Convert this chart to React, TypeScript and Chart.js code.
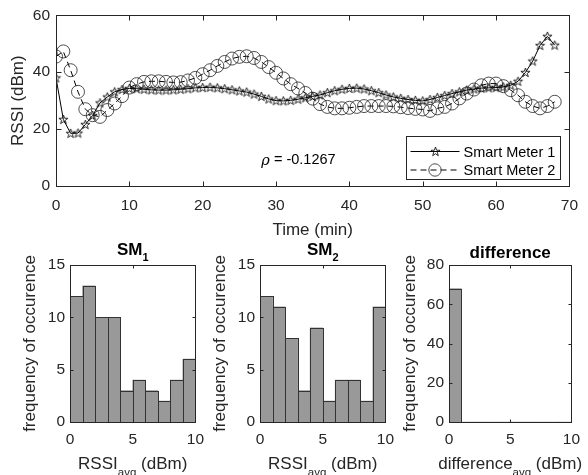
import React, { useEffect, useRef } from 'react';
import { Chart, registerables } from 'chart.js';

Chart.register(...registerables);

// ---------- data ----------
const TIME = [0, 1, 2, 3, 4, 5, 6, 7, 8, 9, 10, 11, 12, 13, 14, 15, 16, 17, 18, 19, 20, 21, 22, 23, 24, 25, 26, 27, 28, 29, 30, 31, 32, 33, 34, 35, 36, 37, 38, 39, 40, 41, 42, 43, 44, 45, 46, 47, 48, 49, 50, 51, 52, 53, 54, 55, 56, 57, 58, 59, 60, 61, 62, 63, 64, 65, 66, 67, 68];
const SM1 = [38, 23.4, 18.5, 18.6, 21.6, 24.8, 29.2, 31.3, 33.1, 33.9, 34.3, 34.2, 34, 33.8, 33.7, 33.7, 33.8, 34, 34.2, 34.5, 34.6, 34.7, 34.5, 34.2, 33.8, 33.4, 33, 32.3, 31.5, 30.6, 30, 29.9, 30.1, 30.5, 31, 31.5, 32, 32.8, 33.5, 34, 34.3, 34.4, 34.1, 33.5, 32.8, 32, 31.3, 30.8, 30.4, 30.1, 29.9, 30.4, 31.1, 31.8, 32.5, 33.1, 33.7, 34.1, 34.4, 34.5, 34.6, 34.8, 35.4, 36.8, 39.9, 43.9, 49.4, 52.6, 49.5];
const SM2 = [45.5, 47.3, 40.7, 33.1, 27, 24.9, 24.3, 26.7, 29, 31.6, 34.6, 35.8, 36.6, 36.8, 36.8, 36.6, 36.4, 36.5, 37.1, 38, 39.3, 40.7, 42.2, 43.6, 44.8, 45.4, 45.6, 45, 43.6, 41.8, 39.8, 37.8, 35.8, 34.3, 32.7, 30.7, 28.8, 27.8, 27.3, 27.3, 27.5, 27.8, 28.1, 28.1, 28.1, 28.1, 28, 27.7, 27.4, 27.1, 26.9, 26.4, 27.3, 27.8, 29, 30.8, 32.5, 33.9, 35.4, 36, 36, 35.1, 33.7, 31.9, 29.6, 28.1, 27.3, 28.1, 29.6];
const SERIES_LABELS = ['Smart Meter 1', 'Smart Meter 2'];
const RHO_TEXT = ' = -0.1267';
const RHO_POS = [28, 9];

const BIN_CENTERS = [0.5, 1.5, 2.5, 3.5, 4.5, 5.5, 6.5, 7.5, 8.5, 9.5];
const SM1_HIST = [12, 13, 10, 10, 3, 4, 3, 2, 4, 6];
const SM2_HIST = [12, 11, 8, 3, 9, 2, 4, 4, 2, 11];
const DIFF_HIST = [68, 0, 0, 0, 0, 0, 0, 0, 0, 0];

// ---------- styles ----------
const FONT = '"Liberation Sans", Arial, Helvetica, sans-serif';
const AX = '#262626';
const TICK_SIZE = 15.5;
const LABEL_SIZE = 17;

type Piece = { text: string; sub?: boolean; italic?: boolean };

function drawPieces(ctx: CanvasRenderingContext2D, pieces: Piece[], cx: number, baseline: number, size: number, subSize: number, bold: boolean, subDy: number, color: string) {
  const fontFor = (p: Piece) => `${p.italic ? 'italic ' : ''}${bold ? 'bold ' : ''}${p.sub ? subSize : size}px ${FONT}`;
  const widths: number[] = [];
  let total = 0;
  for (const p of pieces) {
    ctx.font = fontFor(p);
    const w = ctx.measureText(p.text).width;
    widths.push(w);
    total += w;
  }
  let x = cx - total / 2;
  ctx.textAlign = 'left';
  ctx.textBaseline = 'alphabetic';
  ctx.fillStyle = color;
  pieces.forEach((p, i) => {
    ctx.font = fontFor(p);
    ctx.fillText(p.text, x, baseline + (p.sub ? subDy : 0));
    x += widths[i];
  });
}

function makeStar(): HTMLCanvasElement {
  const size = 11;
  const c = document.createElement('canvas');
  c.width = size;
  c.height = size;
  const ctx = c.getContext('2d')!;
  const cx = size / 2, cy = size / 2 + 0.3;
  const R = 4.8, r = R * 0.4;
  ctx.beginPath();
  for (let i = 0; i < 10; i++) {
    const ang = -Math.PI / 2 + (i * Math.PI) / 5;
    const rad = i % 2 === 0 ? R : r;
    const x = cx + rad * Math.cos(ang), y = cy + rad * Math.sin(ang);
    if (i === 0) ctx.moveTo(x, y); else ctx.lineTo(x, y);
  }
  ctx.closePath();
  ctx.strokeStyle = '#111';
  ctx.lineWidth = 0.9;
  ctx.stroke();
  return c;
}

type DecoCfg = {
  tickLen: number;
  title?: { pieces: Piece[]; baseline: number };
  xlabel?: { pieces: Piece[]; baseline: number };
  ylabel?: { text: string; x: number };
  barOutline?: boolean;
  legend?: { star: HTMLCanvasElement };
  rho?: boolean;
};

function decoPlugin(cfg: DecoCfg) {
  return {
    id: 'deco',
    afterDatasetsDraw(chart: any) {
      const ctx: CanvasRenderingContext2D = chart.ctx;
      const { left, right, top, bottom } = chart.chartArea;
      const xs = chart.scales.x, ys = chart.scales.y;
      ctx.save();
      if (cfg.barOutline) {
        const meta = chart.getDatasetMeta(0);
        ctx.strokeStyle = '#333';
        ctx.lineWidth = 1;
        meta.data.forEach((bar: any) => {
          const p = bar.getProps(['x', 'y', 'base', 'width'], true);
          if (Math.abs(p.base - p.y) < 0.5) return;
          const l = Math.round(p.x - p.width / 2) + 0.5;
          const r = Math.round(p.x + p.width / 2) + 0.5;
          const t = Math.round(p.y) + 0.5;
          const b = Math.round(p.base) + 0.5;
          ctx.strokeRect(l, t, r - l, b - t);
        });
      }
      const L = Math.round(left) + 0.5, R = Math.round(right) + 0.5, T = Math.round(top) + 0.5, B = Math.round(bottom) + 0.5;
      ctx.strokeStyle = AX;
      ctx.lineWidth = 1;
      ctx.setLineDash([]);
      ctx.strokeRect(L, T, R - L, B - T);
      const tl = cfg.tickLen;
      ctx.beginPath();
      xs.ticks.forEach((t: any) => {
        const px = Math.round(xs.getPixelForValue(t.value)) + 0.5;
        ctx.moveTo(px, B); ctx.lineTo(px, B - tl);
        ctx.moveTo(px, T); ctx.lineTo(px, T + tl);
      });
      ys.ticks.forEach((t: any) => {
        const py = Math.round(ys.getPixelForValue(t.value)) + 0.5;
        ctx.moveTo(L, py); ctx.lineTo(L + tl, py);
        ctx.moveTo(R, py); ctx.lineTo(R - tl, py);
      });
      ctx.stroke();

      const cx = (left + right) / 2;
      if (cfg.title) drawPieces(ctx, cfg.title.pieces, cx, cfg.title.baseline, LABEL_SIZE, 11, true, 6, '#000');
      if (cfg.xlabel) drawPieces(ctx, cfg.xlabel.pieces, cx, cfg.xlabel.baseline, LABEL_SIZE, 11.5, false, 7, AX);
      if (cfg.ylabel) {
        ctx.save();
        ctx.translate(cfg.ylabel.x, (top + bottom) / 2);
        ctx.rotate(-Math.PI / 2);
        ctx.font = `${LABEL_SIZE}px ${FONT}`;
        ctx.fillStyle = AX;
        ctx.textAlign = 'center';
        ctx.textBaseline = 'alphabetic';
        ctx.fillText(cfg.ylabel.text, 0, 0);
        ctx.restore();
      }
      if (cfg.rho) {
        const px = xs.getPixelForValue(RHO_POS[0]);
        const py = ys.getPixelForValue(RHO_POS[1]);
        ctx.textAlign = 'left';
        ctx.textBaseline = 'middle';
        ctx.fillStyle = '#000';
        ctx.font = `italic 14.5px "DejaVu Serif", serif`;
        ctx.fillText('\u03C1', px, py + 1);
        const w = ctx.measureText('\u03C1').width;
        ctx.font = `14.5px ${FONT}`;
        ctx.fillText(RHO_TEXT, px + w, py);
      }
      if (cfg.legend) {
        const bx = Math.round(right) - 163 + 0.5, by = Math.round(bottom) - 50 + 0.5, bw = 154, bh = 43;
        ctx.fillStyle = '#fff';
        ctx.fillRect(bx, by, bw, bh);
        ctx.strokeStyle = AX;
        ctx.strokeRect(bx, by, bw, bh);
        const rows = [by + 15, by + 33.5];
        const mx = bx + 28.5;
        ctx.strokeStyle = '#000';
        ctx.lineWidth = 1;
        ctx.beginPath();
        ctx.moveTo(bx + 4, rows[0]); ctx.lineTo(bx + 53, rows[0]);
        ctx.stroke();
        const st = cfg.legend.star;
        ctx.drawImage(st, Math.round(mx - st.width / 2), Math.round(rows[0] - st.height / 2));
        ctx.setLineDash([6, 4]);
        ctx.beginPath();
        ctx.moveTo(bx + 4, rows[1]); ctx.lineTo(bx + 53, rows[1]);
        ctx.stroke();
        ctx.setLineDash([]);
        ctx.strokeStyle = '#222';
        ctx.lineWidth = 0.8;
        ctx.beginPath();
        ctx.arc(mx, rows[1], 6.2, 0, Math.PI * 2);
        ctx.stroke();
        ctx.font = `14.5px ${FONT}`;
        ctx.fillStyle = '#000';
        ctx.textAlign = 'left';
        ctx.textBaseline = 'alphabetic';
        ctx.fillText(SERIES_LABELS[0], bx + 57, rows[0] + 5);
        ctx.fillText(SERIES_LABELS[1], bx + 57, rows[1] + 5);
      }
      ctx.restore();
    },
  };
}

const tickFont = { family: FONT, size: TICK_SIZE };

function makeTop(canvas: HTMLCanvasElement) {
  const star = makeStar();
  return new Chart(canvas, {
    type: 'line',
    data: {
      datasets: [
        {
          label: SERIES_LABELS[0],
          data: TIME.map((t, i) => ({ x: t, y: SM1[i] })),
          borderColor: '#000',
          borderWidth: 1,
          pointStyle: star as any,
          pointRadius: 4,
          pointBorderColor: '#000',
          pointBackgroundColor: 'rgba(0,0,0,0)',
          tension: 0,
          fill: false,
        },
        {
          label: SERIES_LABELS[1],
          data: TIME.map((t, i) => ({ x: t, y: SM2[i] })),
          borderColor: '#000',
          borderWidth: 1,
          borderDash: [6, 4],
          pointStyle: 'circle',
          pointRadius: 6.5,
          pointBorderWidth: 0.8,
          pointBorderColor: '#222',
          pointBackgroundColor: 'rgba(0,0,0,0)',
          tension: 0,
          fill: false,
        },
      ],
    },
    options: {
      animation: false,
      responsive: false,
      devicePixelRatio: 1,
      events: [],
      layout: { padding: { left: 0, right: 12, top: 15, bottom: 0 } },
      plugins: { legend: { display: false }, tooltip: { enabled: false } },
      scales: {
        x: {
          type: 'linear', min: 0, max: 70,
          ticks: { stepSize: 10, padding: 10, color: AX, font: tickFont, maxRotation: 0 },
          grid: { display: false, drawTicks: false },
          border: { display: false },
          afterFit: (s: any) => { s.height = 54; },
        },
        y: {
          type: 'linear', min: 0, max: 60,
          ticks: { stepSize: 20, padding: 6, color: AX, font: tickFont },
          grid: { display: false, drawTicks: false },
          border: { display: false },
          afterFit: (s: any) => { s.width = 56; },
        },
      },
    } as any,
    plugins: [
      decoPlugin({
        tickLen: 5,
        xlabel: { pieces: [{ text: 'Time (min)' }], baseline: 234.5 },
        ylabel: { text: 'RSSI (dBm)', x: 23 },
        legend: { star },
        rho: true,
      }) as any,
    ],
  });
}

function makeHist(canvas: HTMLCanvasElement, counts: number[], yMax: number, yStep: number, yWidth: number, padRight: number, deco: DecoCfg) {
  return new Chart(canvas, {
    type: 'bar',
    data: {
      datasets: [
        {
          data: BIN_CENTERS.map((c, i) => ({ x: c, y: counts[i] })),
          backgroundColor: '#999999',
          borderWidth: 0,
          barPercentage: 1,
          categoryPercentage: 1,
        },
      ],
    },
    options: {
      animation: false,
      responsive: false,
      devicePixelRatio: 1,
      events: [],
      layout: { padding: { left: 0, right: padRight, top: 30, bottom: 0 } },
      plugins: { legend: { display: false }, tooltip: { enabled: false } },
      scales: {
        x: {
          type: 'linear', min: 0, max: 10, offset: false,
          ticks: { stepSize: 5, padding: 8, color: AX, font: tickFont, maxRotation: 0 },
          grid: { display: false, drawTicks: false, offset: false },
          border: { display: false },
          afterFit: (s: any) => { s.height = 53; },
        },
        y: {
          type: 'linear', min: 0, max: yMax,
          ticks: { stepSize: yStep, padding: 5, color: AX, font: tickFont },
          grid: { display: false, drawTicks: false },
          border: { display: false },
          afterFit: (s: any) => { s.width = yWidth; },
        },
      },
    } as any,
    plugins: [decoPlugin({ ...deco, barOutline: true }) as any],
  });
}

const RSSI_LABEL: Piece[] = [{ text: 'RSSI' }, { text: 'avg', sub: true }, { text: ' (dBm)' }];
const DIFF_LABEL: Piece[] = [{ text: 'difference' }, { text: 'avg', sub: true }, { text: ' (dBm)' }];
const YL = 'frequency of occurence';

type Spec = { left: number; top: number; width: number; height: number; make: (c: HTMLCanvasElement) => Chart };

function ChartCanvas({ spec }: { spec: Spec }) {
  const ref = useRef<HTMLCanvasElement>(null);
  useEffect(() => {
    const chart = spec.make(ref.current!);
    return () => chart.destroy();
  }, []);
  return (
    <canvas
      ref={ref}
      width={spec.width}
      height={spec.height}
      style={{ position: 'absolute', left: spec.left, top: spec.top, width: spec.width, height: spec.height }}
    />
  );
}

const SPECS: Spec[] = [
  { left: 0, top: 0, width: 588, height: 240, make: makeTop },
  {
    left: 0, top: 235, width: 212, height: 240,
    make: (c) => makeHist(c, SM1_HIST, 15, 5, 70, 14, {
      tickLen: 3,
      title: { pieces: [{ text: 'SM' }, { text: '1', sub: true }], baseline: 20 },
      xlabel: { pieces: RSSI_LABEL, baseline: 233.5 },
      ylabel: { text: YL, x: 35 },
    }),
  },
  {
    left: 190, top: 235, width: 212, height: 240,
    make: (c) => makeHist(c, SM2_HIST, 15, 5, 70, 15, {
      tickLen: 3,
      title: { pieces: [{ text: 'SM' }, { text: '2', sub: true }], baseline: 20 },
      xlabel: { pieces: RSSI_LABEL, baseline: 233.5 },
      ylabel: { text: YL, x: 35 },
    }),
  },
  {
    left: 380, top: 235, width: 208, height: 240,
    make: (c) => makeHist(c, DIFF_HIST, 80, 20, 69, 13, {
      tickLen: 3,
      title: { pieces: [{ text: 'difference' }], baseline: 23 },
      xlabel: { pieces: DIFF_LABEL, baseline: 233.5 },
      ylabel: { text: YL, x: 35 },
    }),
  },
];

export default function App() {
  return (
    <div style={{ position: 'absolute', left: 0, top: 0, width: 588, height: 475, background: '#fff', overflow: 'hidden' }}>
      {SPECS.map((s, i) => (
        <ChartCanvas key={i} spec={s} />
      ))}
    </div>
  );
}
